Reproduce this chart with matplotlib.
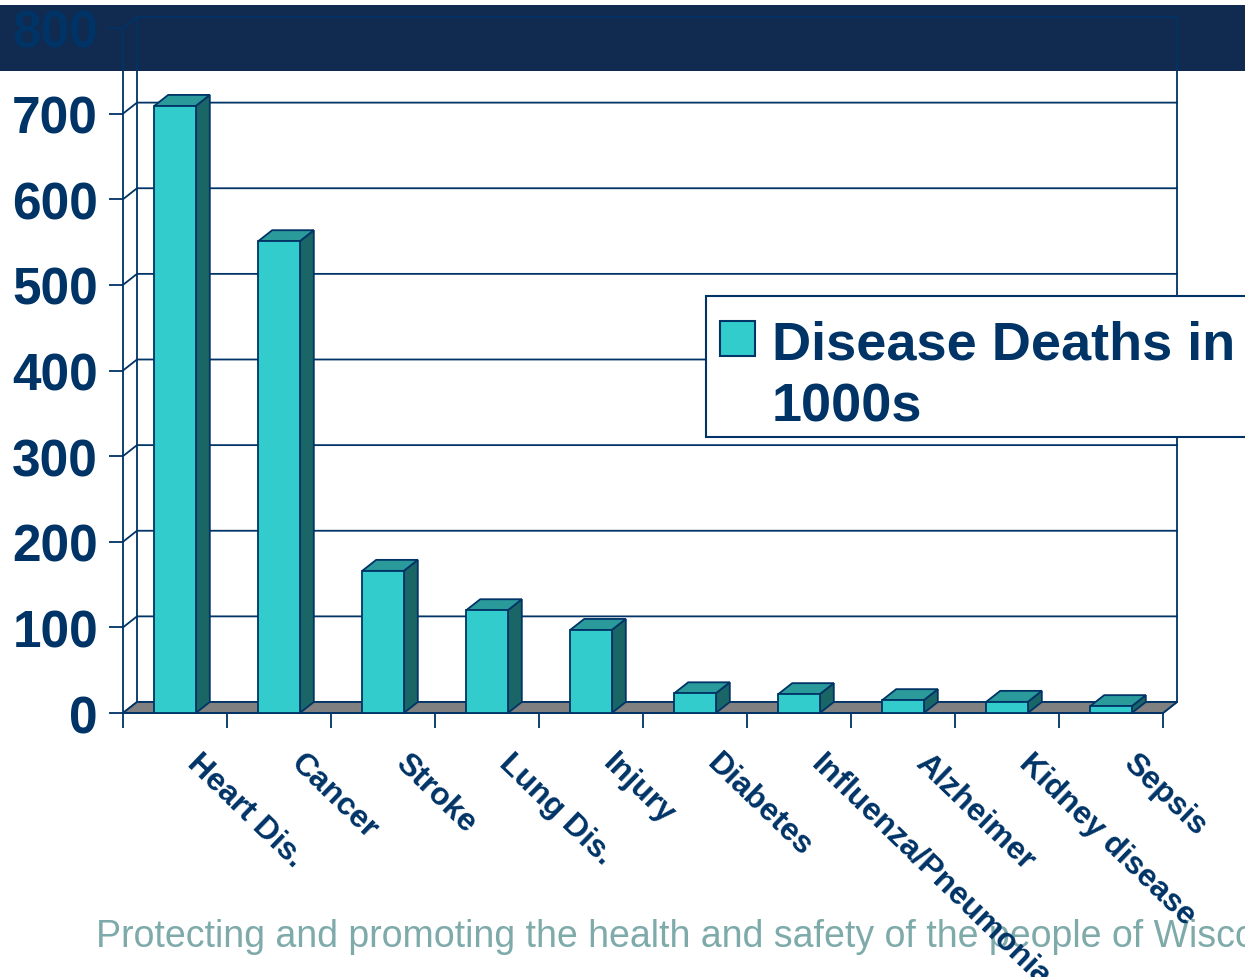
import matplotlib
matplotlib.use('Agg')
import matplotlib.pyplot as plt
from matplotlib.patches import Polygon, Rectangle

plt.rcParams['font.family'] = ['Liberation Sans', 'DejaVu Sans']

# deaths by cause, in thousands
causes = ['Heart Dis.', 'Cancer', 'Stroke', 'Lung Dis.', 'Injury', 'Diabetes',
          'Influenza/Pneumonia', 'Alzheimer', 'Kidney disease', 'Sepsis']
deaths = [709, 551, 166, 120, 97, 23, 22, 15, 13, 8]
yticks = [0, 100, 200, 300, 400, 500, 600, 700, 800]
series_name = 'Disease Deaths in\n1000s'
footer = 'Protecting and promoting the health and safety of the people of Wisconsin'

navy = '#003366'
band = '#112A50'
face = '#33CCCC'
top_c = '#2A9A9A'
side_c = '#1A6666'
floor_c = '#808080'

W, H = 1245, 978
fig = plt.figure(figsize=(W / 100, H / 100), dpi=100)

# dark header band
fig.add_artist(Rectangle((0, 1 - 72 / H), 1, 66 / H, transform=fig.transFigure,
                         facecolor=band, edgecolor='none', zorder=-1))

ax = fig.add_axes([123 / W, 1 - 714 / H, 1040 / W, 685 / H])
ax.patch.set_visible(False)
n = len(causes)
ax.set_xlim(0, n)
ax.set_ylim(0, 800)

# 3d depth offset in data units
px_x = 1040 / n
px_y = 685 / 800
dx = 14 / px_x
dy = 11 / px_y

lw = 1.3
for s in ['top', 'right']:
    ax.spines[s].set_visible(False)
for s in ['left', 'bottom']:
    ax.spines[s].set_color(navy)
    ax.spines[s].set_linewidth(lw)

ax.set_yticks(yticks)
ax.tick_params(axis='y', direction='out', length=10, width=lw, color=navy,
               labelsize=37, labelcolor=navy, pad=8)
for lab in ax.get_yticklabels():
    lab.set_fontweight('bold')
ax.set_xticks(range(n + 1))
ax.set_xticklabels([])
ax.tick_params(axis='x', direction='out', length=11, width=lw, color=navy)

# walls and gridlines
for v in yticks:
    ax.plot([0, dx, n + dx], [v, v + dy, v + dy], color=navy, lw=lw,
            clip_on=False, zorder=1)
ax.plot([dx, dx], [dy, 800 + dy], color=navy, lw=lw, clip_on=False, zorder=1)
ax.plot([n, n + dx, n + dx], [0, dy, 800 + dy], color=navy, lw=lw,
        clip_on=False, zorder=1)

# floor
ax.add_patch(Polygon([(0, 0), (n, 0), (n + dx, dy), (dx, dy)], closed=True,
                     facecolor=floor_c, edgecolor=navy, lw=lw, zorder=2,
                     clip_on=False))

# 3d bars
w = 0.4
for i, v in enumerate(deaths):
    x0 = i + 0.5 - w / 2
    x1 = x0 + w
    ax.add_patch(Polygon([(x1, 0), (x1 + dx, dy), (x1 + dx, v + dy), (x1, v)],
                         facecolor=side_c, edgecolor=navy, lw=lw, zorder=3,
                         clip_on=False))
    ax.add_patch(Polygon([(x0, v), (x1, v), (x1 + dx, v + dy), (x0 + dx, v + dy)],
                         facecolor=top_c, edgecolor=navy, lw=lw, zorder=3,
                         clip_on=False))
    ax.add_patch(Polygon([(x0, 0), (x1, 0), (x1, v), (x0, v)],
                         facecolor=face, edgecolor=navy, lw=lw, zorder=4,
                         clip_on=False))

# rotated category labels
for i, name in enumerate(causes):
    ax.annotate(name, xy=(i + 0.5, 0), xycoords='data', xytext=(8, -37),
                textcoords='offset points', rotation=-44, rotation_mode='anchor',
                ha='left', va='baseline', fontsize=23, fontweight='bold',
                color=navy, annotation_clip=False)

# legend box (runs off the right edge)
fig.add_artist(Rectangle((706 / W, 1 - 438 / H), 600 / W, 141 / H,
                         transform=fig.transFigure, facecolor='white',
                         edgecolor=navy, lw=1.5, zorder=5))
fig.add_artist(Rectangle((720 / W, 1 - 357 / H), 35 / W, 35 / H,
                         transform=fig.transFigure, facecolor=face,
                         edgecolor=navy, lw=1.5, zorder=6))
line1, line2 = series_name.split('\n')
fig.text(772 / W, 1 - 360 / H, line1, fontsize=39, fontweight='bold',
         color=navy, va='baseline', ha='left', zorder=6)
fig.text(772 / W, 1 - 421 / H, line2, fontsize=39, fontweight='bold',
         color=navy, va='baseline', ha='left', zorder=6)

# footer line, under the axis labels
fig.text(96 / W, 1 - 947 / H, footer, fontsize=27, color='#7FAAAA',
         va='baseline', ha='left', zorder=-0.5)

fig.savefig('out.png', dpi=100)
